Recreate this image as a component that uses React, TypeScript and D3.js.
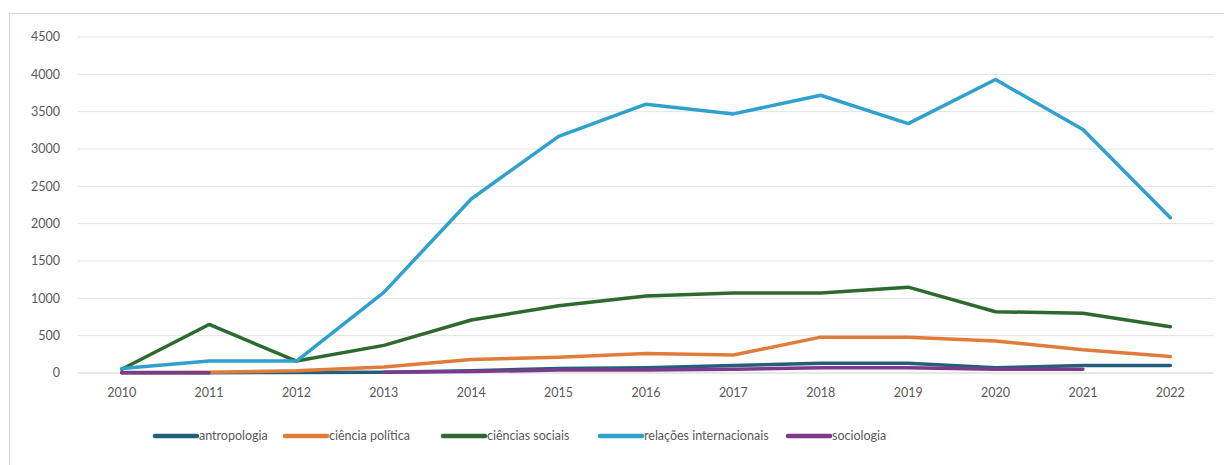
import React from "react";
import * as d3 from "d3";

const years = ["2010","2011","2012","2013","2014","2015","2016","2017","2018","2019","2020","2021","2022"];
const yTicks = [0,500,1000,1500,2000,2500,3000,3500,4000,4500];

const antropologia: (number|null)[] = [8, 5, 8, 10, 30, 60, 70, 100, 130, 130, 70, 100, 100];
const cienciaPolitica: (number|null)[] = [5, 10, 30, 80, 180, 210, 260, 240, 480, 480, 430, 310, 220];
const cienciasSociais: (number|null)[] = [50, 650, 160, 370, 710, 900, 1030, 1070, 1070, 1150, 820, 800, 620];
const relacoesInternacionais: (number|null)[] = [60, 160, 160, 1080, 2330, 3170, 3600, 3470, 3720, 3340, 3930, 3260, 2080];
const sociologia: (number|null)[] = [5, 5, null, 10, 20, 40, 40, 50, 70, 70, 50, 50, null];

const seriesNames = ["antropologia","ciência política","ciências sociais","relações internacionais","sociologia"];
const seriesData = [antropologia, cienciaPolitica, cienciasSociais, relacoesInternacionais, sociologia];
const colors = ["#255e7a","#e07c3a","#2d6a2f","#2ea1cc","#7d3a8c"];

const W = 1224, H = 465;
const font = "Lato, 'Open Sans', sans-serif";

export default function App() {
  const x = d3.scaleBand<string>().domain(years).range([78, 1214]);
  const y = d3.scaleLinear().domain([0, 4500]).range([373, 37]);
  const cx = (i: number) => (x(years[i]) as number) + x.bandwidth() / 2;
  const line = d3.line<number|null>()
    .defined(d => d !== null)
    .x((_, i) => cx(i))
    .y(d => y(d as number));

  const legendX = [155, 285, 443, 600, 788];

  return (
    <div style={{ position: "absolute", left: 0, top: 0 }}>
      <svg width={W} height={H} style={{ display: "block", background: "#fff" }}>
        <rect x={9.5} y={13.5} width={1230} height={470} fill="#fff" stroke="#d9d9d9" strokeWidth={1} />
        {yTicks.map(t => (
          <g key={t}>
            <line x1={78} x2={1214} y1={y(t)} y2={y(t)} stroke={t === 0 ? "#d0d0d0" : "#e3e3e3"} strokeWidth={1} />
            <text x={60} y={y(t)} dy="0.35em" textAnchor="end" fontFamily={font} fontSize={12.5} fill="#595959">{t}</text>
          </g>
        ))}
        {years.map((yr, i) => (
          <text key={yr} x={cx(i)} y={393} dy="0.35em" textAnchor="middle" fontFamily={font} fontSize={12.5} fill="#595959">{yr}</text>
        ))}
        {seriesData.map((s, k) => (
          <path key={k} d={line(s) || ""} fill="none" stroke={colors[k]} strokeWidth={3.5} strokeLinejoin="round" strokeLinecap="round" />
        ))}
        {seriesNames.map((n, k) => (
          <g key={n}>
            <line x1={legendX[k]} x2={legendX[k] + 42} y1={436} y2={436} stroke={colors[k]} strokeWidth={4.5} strokeLinecap="round" />
            <text x={legendX[k] + 44} y={436} dy="0.35em" fontFamily={font} fontSize={12.5} fill="#595959">{n}</text>
          </g>
        ))}
      </svg>
    </div>
  );
}
